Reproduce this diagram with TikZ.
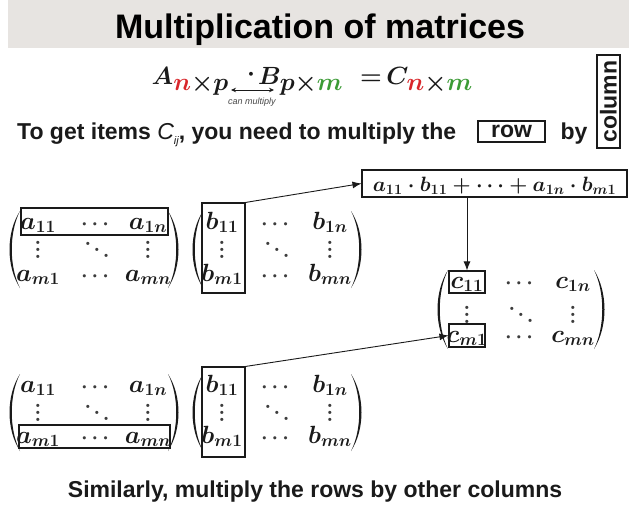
\documentclass[tikz,border=0pt]{standalone}
\usepackage{amsmath}
\usepackage[no-math]{fontspec}
\setmainfont{Liberation Sans}
\usetikzlibrary{arrows.meta}
\definecolor{bandgray}{HTML}{E7E4E1}
\definecolor{nred}{HTML}{D9262B}
\definecolor{mgreen}{HTML}{3B9B35}
\definecolor{ink}{HTML}{1A1A1A}
\newcommand\LPar[3]{\fill[ink] (#1,#2) .. controls ({#1-14},{#2+0.28*(#3-#2)}) and ({#1-14},{#3-0.28*(#3-#2)}) .. (#1,#3) .. controls ({#1-11},{#3-0.28*(#3-#2)}) and ({#1-11},{#2+0.28*(#3-#2)}) .. (#1,#2) -- cycle;}
\newcommand\RPar[3]{\fill[ink] (#1,#2) .. controls ({#1+14},{#2+0.28*(#3-#2)}) and ({#1+14},{#3-0.28*(#3-#2)}) .. (#1,#3) .. controls ({#1+11},{#3-0.28*(#3-#2)}) and ({#1+11},{#2+0.28*(#3-#2)}) .. (#1,#2) -- cycle;}
\newcommand\Vd{\vbox{\baselineskip=7pt\lineskiplimit=0pt\hbox{$.$}\hbox{$.$}\hbox{$.$}}}
\newcommand\Dd{\mbox{$.$\kern2.5pt\raisebox{-6pt}{$.$}\kern2.5pt\raisebox{-12pt}{$.$}}}
\newcommand\Mat[8]{%
 \node[ent,anchor=base] (#1-11) at (#3,#6) {$#2_{11}$};
 \node[hd,anchor=base] (#1-12) at (#4,#6) {$\cdots$};
 \node[ent,anchor=base] (#1-13) at (#5,#6) {$#2_{1n}$};
 \node[dots] (#1-21) at (#3,#7) {\Vd};
 \node[dots] (#1-22) at (#4,#7) {\Dd};
 \node[dots] (#1-23) at (#5,#7) {\Vd};
 \node[ent,anchor=base] (#1-31) at (#3,#8) {$#2_{m1}$};
 \node[hd,anchor=base] (#1-32) at (#4,#8) {$\cdots$};
 \node[ent,anchor=base] (#1-33) at (#5,#8) {$#2_{mn}$};}
\begin{document}
\begin{tikzpicture}[x=1pt,y=-1pt,
  ent/.style={inner sep=0pt, font=\fontsize{26}{30}\selectfont\boldmath, text=ink},
  dots/.style={inner sep=0pt, font=\fontsize{22}{26}\selectfont\boldmath, text=ink!85},
  hd/.style={inner sep=0pt, font=\fontsize{20}{24}\selectfont\boldmath, text=ink!85},
  fm/.style={inner sep=0pt, font=\fontsize{33}{38}\selectfont\boldmath, text=ink},
  bx/.style={draw=ink, line width=1.1pt, inner sep=0pt},
  arr/.style={-{Latex[length=9pt,width=7pt]}, line width=0.9pt, draw=ink},
  txt/.style={inner sep=0pt, font=\fontsize{23}{28}\selectfont\bfseries, text=ink}]
\useasboundingbox (0,0) rectangle (629,506);
\fill[white] (0,0) rectangle (629,506);
% title
\fill[bandgray] (8,0) rectangle (629,48);
\node[inner sep=0pt, font=\fontsize{34}{40}\selectfont\bfseries, text=black, anchor=base] (title) at (320,38) {Multiplication of matrices};
% formula
\node[fm, anchor=base east] (fA) at (229,84) {$A_{{\color{nred}n}\times p}$};
\node[fm, anchor=base] (fdot) at (251,80) {$\cdot$};
\node[fm, anchor=base west] (fB) at (258,84) {$B_{p\times{\color{mgreen}m}}$};
\node[fm, anchor=base] (feq) at (371,84) {$=$};
\node[fm, anchor=base east] (fC) at (473,84) {$C_{{\color{nred}n}\times{\color{mgreen}m}}$};
\coordinate (cmL) at (231,90);
\coordinate (cmR) at (274,90);
\draw[{Stealth[length=5pt,width=4.5pt]}-{Stealth[length=5pt,width=4.5pt]}, line width=0.8pt, ink] (cmL) -- (cmR);
\node[inner sep=0pt, font=\fontsize{9}{11}\selectfont\itshape, text=ink!80] (canmul) at (252,102) {can multiply};
% instruction
\node[txt, anchor=base west] (instr) at (17,139) {To get items {\mdseries\itshape C\raisebox{-5pt}{\fontsize{11}{12}\selectfont ij}}, you need to multiply the};
\node[bx, txt, minimum width=67pt, minimum height=21pt] (rowbox) at (511.5,131.5) {row};
\node[txt, anchor=base] (by) at (574,139) {by};
\node[bx, txt, rotate=90, minimum width=93pt, minimum height=23pt] (colbox) at (608.5,101.5) {column};
% matrices
\Mat{A1}{a}{38}{97}{148}{229}{250}{281}
\LPar{20}{211}{288}\RPar{168}{211}{288}
\node[bx, minimum width=147pt, minimum height=27pt] (A1row) at (94.5,221.5) {};
\Mat{B1}{b}{222}{277}{330}{229}{250}{281}
\LPar{203}{211}{288}\RPar{351}{211}{288}
\node[bx, minimum width=43pt, minimum height=90pt] (B1col) at (223.5,248) {};
\node[bx, minimum width=265pt, minimum height=27pt] (sum) at (494.5,183.5) {};
\node[inner sep=0pt, font=\fontsize{21}{26}\selectfont\boldmath, text=ink, anchor=base] (sumtxt) at (494.5,191) {$a_{11}\cdot b_{11}+\cdots+a_{1n}\cdot b_{m1}$};
\Mat{C}{c}{467}{521}{573}{288}{315}{342}
\LPar{448}{270}{349}\RPar{594}{270}{349}
\node[bx, minimum width=36pt, minimum height=22pt] (c11box) at (467,282) {};
\node[bx, minimum width=36pt, minimum height=23pt] (cm1box) at (467,335.5) {};
\Mat{A2}{a}{38}{97}{148}{392}{413}{443}
\LPar{20}{374}{451}\RPar{168}{374}{451}
\node[bx, minimum width=151pt, minimum height=23pt] (A2row) at (94.5,436.5) {};
\Mat{B2}{b}{222}{277}{330}{392}{413}{443}
\LPar{203}{374}{451}\RPar{351}{374}{451}
\node[bx, minimum width=43pt, minimum height=90pt] (B2col) at (223.5,412) {};
% arrows
\draw[arr] (B1col.north east) -- (sum.west);
\draw[arr] (sum.south -| c11box.north) -- (c11box.north);
\draw[arr] (B2col.north east) -- (cm1box.west);
% bottom
\node[txt, anchor=base] (bottom) at (315,497) {Similarly, multiply the rows by other columns};
\end{tikzpicture}
\end{document}
